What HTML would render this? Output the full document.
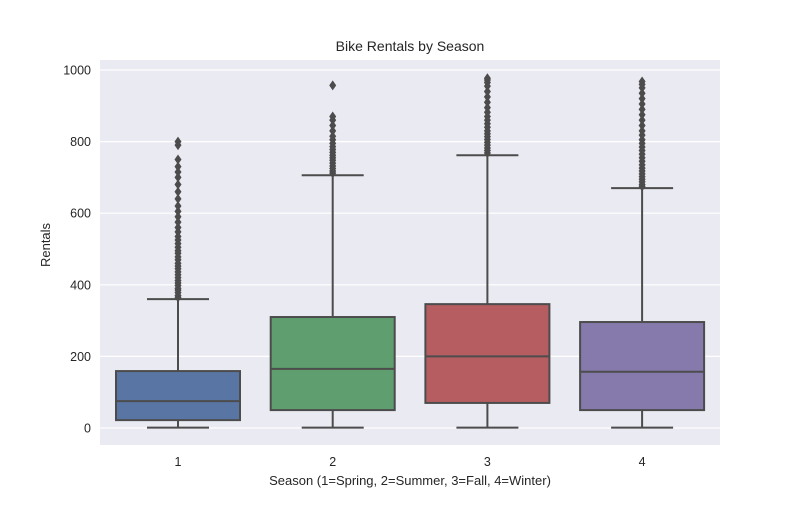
<!DOCTYPE html>
<html><head><meta charset="utf-8"><style>
body{margin:0;background:#fff;font-family:"Liberation Sans",sans-serif}
svg text{font-family:"Liberation Sans",sans-serif;fill:#262626}
</style></head><body>
<svg id="chart" width="800" height="500" xmlns="http://www.w3.org/2000/svg">
<rect width="800" height="500" fill="#fff"/>
<rect x="100" y="60" width="620" height="385" fill="#eaeaf2"/>
<g id="grid"></g>
<g id="boxes"></g>
<g id="axes"></g>
<text x="410" y="51" text-anchor="middle" font-size="14">Bike Rentals by Season</text>
<text x="410" y="485" text-anchor="middle" font-size="13">Season (1=Spring, 2=Summer, 3=Fall, 4=Winter)</text>
<text transform="translate(50,245) rotate(-90)" text-anchor="middle" font-size="13">Rentals</text>
</svg>
<script>
const categories=["1","2","3","4"];
const mins=[1,1,1,1];
const q1s=[22,50,70,50];
const medians=[75,165,200,157];
const q3s=[159,310,346,296];
const whiskerHighs=[360,706,762,670];
const outliers1=[365,370,378,385,390,398,405,412,420,428,436,445,452,460,470,478,488,495,505,515,525,535,548,560,575,590,605,620,640,660,680,700,715,730,750,790,800];
const outliers2=[712,718,725,732,740,748,755,762,770,778,786,795,805,815,830,845,860,870,957];
const outliers3=[768,775,782,790,798,806,814,822,830,840,850,860,870,882,895,910,925,940,955,965,972,977];
const outliers4=[675,680,688,695,702,710,718,726,735,745,755,765,775,785,795,805,818,830,845,860,875,890,905,920,935,950,960,968];
const outliers=[outliers1,outliers2,outliers3,outliers4];
const yTicks=[0,200,400,600,800,1000];
const colors=["#5975a4","#5f9e6e","#b55d60","#857aab"];
const NS="http://www.w3.org/2000/svg";
const y=v=>428-v*0.358;
const x=i=>178+i*154.7;
function mk(t,a,p){const e=document.createElementNS(NS,t);for(const k in a)e.setAttribute(k,a[k]);p.appendChild(e);return e;}
const grid=document.getElementById('grid'),axes=document.getElementById('axes'),boxes=document.getElementById('boxes');
yTicks.forEach(t=>{
 const l=mk('line',{x1:100,x2:720,y1:y(t),y2:y(t),stroke:'#fff','stroke-width':1.2},grid);
 
 
 const tx=mk('text',{x:91,y:y(t)+4.5,'text-anchor':'end','font-size':12.5},axes);
 tx.textContent=t;
 
 
});
categories.forEach((c,i)=>{
 const cx=x(i),w=124,g=mk('g',{},boxes);
 
 
 const s='#4c4c4c';
 mk('line',{x1:cx,x2:cx,y1:y(mins[i]),y2:y(q1s[i]),stroke:s,'stroke-width':2},g);
 mk('line',{x1:cx,x2:cx,y1:y(q3s[i]),y2:y(whiskerHighs[i]),stroke:s,'stroke-width':2},g);
 mk('line',{x1:cx-w/4,x2:cx+w/4,y1:y(mins[i]),y2:y(mins[i]),stroke:s,'stroke-width':2},g);
 mk('line',{x1:cx-w/4,x2:cx+w/4,y1:y(whiskerHighs[i]),y2:y(whiskerHighs[i]),stroke:s,'stroke-width':2},g);
 mk('rect',{x:cx-w/2,y:y(q3s[i]),width:w,height:y(q1s[i])-y(q3s[i]),fill:colors[i],stroke:s,'stroke-width':2},g);
 mk('line',{x1:cx-w/2,x2:cx+w/2,y1:y(medians[i]),y2:y(medians[i]),stroke:s,'stroke-width':2},g);
 outliers[i].forEach(v=>{
  const p=mk('path',{d:`M${cx},${y(v)-5}L${cx+3.5},${y(v)}L${cx},${y(v)+5}L${cx-3.5},${y(v)}Z`,fill:s},g);
  
  
 });
 const tx=mk('text',{x:cx,y:466,'text-anchor':'middle','font-size':12.5},axes);
 tx.textContent=c;
 
 
});
</script>
</body></html>
